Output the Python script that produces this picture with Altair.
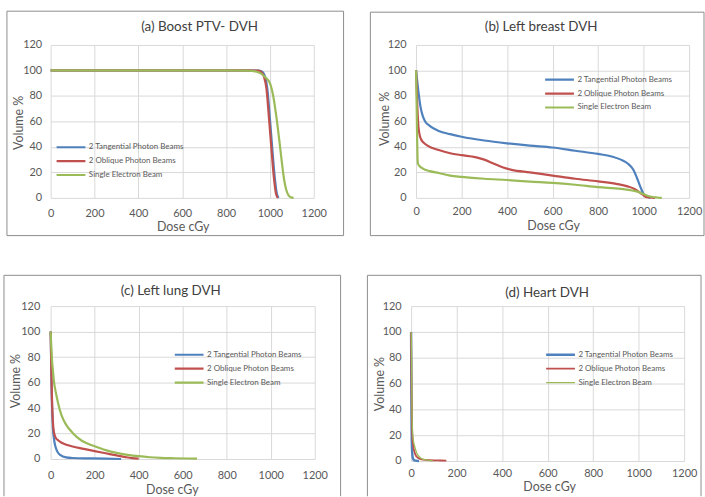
import altair as alt
import pandas as pd

SERIES = ["2 Tangential Photon Beams", "2 Oblique Photon Beams", "Single Electron Beam"]
COLORS = ["#4F81BD", "#C0504D", "#9BBB59"]
X_TICKS = [0, 200, 400, 600, 800, 1000, 1200]
Y_TICKS = [0, 20, 40, 60, 80, 100, 120]
PANEL_TITLES = ["(a) Boost PTV- DVH", "(b) Left breast DVH", "(c) Left lung DVH", "(d) Heart DVH"]
X_TITLE = "Dose cGy"
Y_TITLE = "Volume %"

# (a) Boost PTV
A_TAN_DOSE = [0, 200, 400, 600, 800, 900, 950, 968, 978, 988, 1000, 1012, 1022, 1032, 1040]
A_TAN_VOL = [100, 100, 100, 100, 100, 100, 99.8, 98.5, 95, 86, 62, 36, 16, 3, 0]
A_OBL_DOSE = [0, 200, 400, 600, 800, 900, 945, 962, 973, 984, 996, 1008, 1018, 1028, 1036]
A_OBL_VOL = [100, 100, 100, 100, 100, 100, 99.8, 98.5, 95, 86, 62, 36, 16, 3, 0]
A_ELE_DOSE = [0, 200, 400, 600, 800, 900, 940, 960, 980, 1000, 1015, 1030, 1045, 1055, 1065, 1075, 1085, 1095, 1108]
A_ELE_VOL = [100, 100, 100, 100, 100, 99.8, 99, 97.5, 94.5, 90, 80, 63, 42, 27, 14, 6, 2, 0.5, 0]

# (b) Left breast
B_TAN_DOSE = [0, 5, 10, 15, 20, 30, 40, 60, 100, 150, 200, 300, 400, 500, 600, 700, 800, 860, 900, 930, 955, 970, 985, 1000, 1015, 1030]
B_TAN_VOL = [100, 92, 84, 77, 71, 64, 60, 56.5, 52.5, 50, 48, 45, 42.8, 41, 39.5, 37, 34.5, 32.5, 30, 27, 22, 16, 9, 3, 1, 0]
B_OBL_DOSE = [0, 3, 6, 10, 15, 22, 35, 50, 100, 150, 200, 260, 300, 340, 380, 420, 500, 600, 700, 800, 880, 930, 960, 985, 1000, 1010, 1030, 1050]
B_OBL_VOL = [100, 85, 70, 57, 50, 46, 43, 41, 37.5, 35, 33.5, 32, 30, 27, 24, 22, 20, 17.5, 15, 13, 11, 9, 7, 4, 2, 0.8, 0.3, 0]
B_ELE_DOSE = [0, 2, 4, 6, 8, 15, 30, 60, 100, 150, 200, 300, 400, 500, 600, 700, 800, 900, 950, 980, 1000, 1020, 1040, 1060, 1080]
B_ELE_VOL = [100, 80, 55, 35, 27, 25, 23, 21, 19.5, 17.5, 16.5, 15, 14, 12.8, 11.8, 10.3, 8.4, 7, 5.8, 4.5, 3, 1.5, 0.7, 0.3, 0]

# (c) Left lung
C_TAN_DOSE = [0, 2, 4, 7, 10, 15, 20, 30, 45, 70, 100, 175, 250, 320]
C_TAN_VOL = [100, 80, 57, 38, 25, 16, 11, 6, 3, 1.3, 0.8, 0.5, 0.3, 0]
C_OBL_DOSE = [0, 3, 6, 10, 15, 22, 35, 50, 75, 100, 150, 200, 250, 300, 340, 370, 400]
C_OBL_VOL = [100, 72, 48, 30, 21, 17, 14.5, 12.8, 11, 9.8, 8, 6.2, 4.5, 2.8, 1.5, 0.7, 0.3]
C_ELE_DOSE = [0, 3, 6, 10, 15, 25, 35, 50, 70, 100, 140, 170, 200, 250, 300, 350, 400, 450, 500, 560, 620, 665]
C_ELE_VOL = [100, 88, 78, 70, 61, 51, 43, 34, 27, 20.5, 14.5, 12, 10, 7, 4.8, 3.3, 2.2, 1.4, 0.9, 0.6, 0.4, 0.3]

# (d) Heart
D_TAN_DOSE = [0, 1, 2, 3, 5, 8, 12, 20, 35]
D_TAN_VOL = [100, 60, 30, 15, 6, 2, 0.8, 0.3, 0]
D_OBL_DOSE = [0, 2, 4, 6, 10, 15, 20, 30, 45, 70, 100, 130, 155]
D_OBL_VOL = [100, 55, 28, 18, 11, 7, 4.5, 2.5, 1.3, 0.8, 0.5, 0.4, 0.3]
D_ELE_DOSE = [0, 1, 2, 3, 4, 6, 8, 12, 18, 25, 35, 45, 60, 80, 95]
D_ELE_VOL = [100, 95, 80, 60, 40, 25, 19, 14, 10, 6, 3.5, 2, 1, 0.5, 0.3]

# line widths per series (panel d draws the oblique series thinner)
WIDTHS_DEFAULT = [2.2, 2.2, 2.2]
WIDTHS_HEART = [2.4, 1.3, 2.4]

# layout (pixels, relative to each plot area)
LAYOUTS = [
    dict(w=265, h=154, bl=-44, bt=-34, br=295, bb=192, tx=150, ty=-18, xlp=10, ylp=9,
         xtx=133, xty=29, ytx=-32, yty=78, lx=4.5, ly=96, closed=True),
    dict(w=275, h=154, bl=-46, bt=-33, br=290, bb=192, tx=126, ty=-18, xlp=8, ylp=10,
         xtx=138, xty=28, ytx=-32, yty=74, lx=128.5, ly=28, closed=True),
    dict(w=266, h=154, bl=-47, bt=-31, br=292, bb=191.5, tx=121, ty=-15, xlp=11, ylp=11,
         xtx=122, xty=30.5, ytx=-35, yty=75, lx=123.5, ly=42, closed=False),
    dict(w=275, h=156, bl=-44, bt=-31, br=292, bb=191.5, tx=137, ty=-13, xlp=7, ylp=10,
         xtx=139, xty=26, ytx=-32, yty=78, lx=134.5, ly=42, closed=False),
]

FONT = "Lato"
BORDER = "#8c8c8c"
ONE = pd.DataFrame({"k": [0]})


def long_frame(pairs):
    rows = []
    for name, (dose, vol) in zip(SERIES, pairs):
        for d, v in zip(dose, vol):
            rows.append({"series": name, "dose": d, "vol": v})
    return pd.DataFrame(rows)


def panel(title, pairs, L, widths):
    base = alt.Chart(ONE)
    layers = [
        base.mark_rule(color=BORDER, strokeWidth=1).encode(
            x=alt.value(L["bl"]), y=alt.value(L["bt"]), y2=alt.value(L["bb"])),
        base.mark_rule(color=BORDER, strokeWidth=1).encode(
            x=alt.value(L["br"]), y=alt.value(L["bt"]), y2=alt.value(L["bb"])),
        base.mark_rule(color=BORDER, strokeWidth=1).encode(
            x=alt.value(L["bl"]), x2=alt.value(L["br"]), y=alt.value(L["bt"])),
    ]
    if L["closed"]:
        layers.append(base.mark_rule(color=BORDER, strokeWidth=1).encode(
            x=alt.value(L["bl"]), x2=alt.value(L["br"]), y=alt.value(L["bb"])))

    lines = alt.Chart(long_frame(pairs)).mark_line(
        interpolate="monotone"
    ).encode(
        x=alt.X("dose:Q",
                scale=alt.Scale(domain=[0, 1200], nice=False),
                axis=alt.Axis(values=X_TICKS, title=X_TITLE, labelPadding=L["xlp"],
                              format="d", labelFlush=False, titleX=L["xtx"], titleY=L["xty"],
                              titleAlign="center", titleBaseline="middle")),
        y=alt.Y("vol:Q",
                scale=alt.Scale(domain=[0, 120], nice=False),
                axis=alt.Axis(values=Y_TICKS, title=Y_TITLE, labelPadding=L["ylp"],
                              format="d", titleX=L["ytx"], titleY=L["yty"], titleAngle=270,
                              titleAlign="center", titleBaseline="middle")),
        color=alt.Color("series:N",
                        scale=alt.Scale(domain=SERIES, range=COLORS),
                        legend=alt.Legend(orient="none", legendX=L["lx"], legendY=L["ly"],
                                          title=None, symbolType="stroke", symbolSize=841,
                                          symbolStrokeWidth=2.5, clipHeight=14, rowPadding=0,
                                          padding=0, labelOffset=2, labelFontSize=8,
                                          labelFont=FONT, labelColor="#595959")),
        strokeWidth=alt.StrokeWidth("series:N", scale=alt.Scale(domain=SERIES, range=widths),
                                    legend=None),
    )
    layers.append(lines)
    layers.append(base.mark_text(text=title, font=FONT, fontSize=13.5, color="#404040",
                                 align="center", baseline="middle").encode(
        x=alt.value(L["tx"]), y=alt.value(L["ty"])))
    return alt.layer(*layers).properties(width=L["w"], height=L["h"])


pa = panel(PANEL_TITLES[0], [(A_TAN_DOSE, A_TAN_VOL), (A_OBL_DOSE, A_OBL_VOL), (A_ELE_DOSE, A_ELE_VOL)], LAYOUTS[0], WIDTHS_DEFAULT)
pb = panel(PANEL_TITLES[1], [(B_TAN_DOSE, B_TAN_VOL), (B_OBL_DOSE, B_OBL_VOL), (B_ELE_DOSE, B_ELE_VOL)], LAYOUTS[1], WIDTHS_DEFAULT)
pc = panel(PANEL_TITLES[2], [(C_TAN_DOSE, C_TAN_VOL), (C_OBL_DOSE, C_OBL_VOL), (C_ELE_DOSE, C_ELE_VOL)], LAYOUTS[2], WIDTHS_DEFAULT)
pd_ = panel(PANEL_TITLES[3], [(D_TAN_DOSE, D_TAN_VOL), (D_OBL_DOSE, D_OBL_VOL), (D_ELE_DOSE, D_ELE_VOL)], LAYOUTS[3], WIDTHS_HEART)


def indep(c):
    return c.resolve_scale(color="independent", strokeWidth="independent").resolve_legend(
        color="independent")


top = indep(alt.hconcat(pa, pb, spacing=25))
bottom = indep(alt.hconcat(pc, pd_, spacing=25))

chart = indep(alt.vconcat(top, bottom, spacing=38)).properties(
    padding={"left": 3, "top": 8.5, "right": 0, "bottom": 0},
    background="white",
).configure_view(strokeWidth=0).configure_axis(
    grid=True, gridColor="#d9d9d9", gridWidth=1, domain=False, ticks=False,
    labelFont=FONT, labelFontSize=11, labelColor="#595959",
    titleFont=FONT, titleFontSize=12.5, titleColor="#595959", titleFontWeight="normal",
)

chart.save("out.html", embed_options={"renderer": "svg", "actions": False})
